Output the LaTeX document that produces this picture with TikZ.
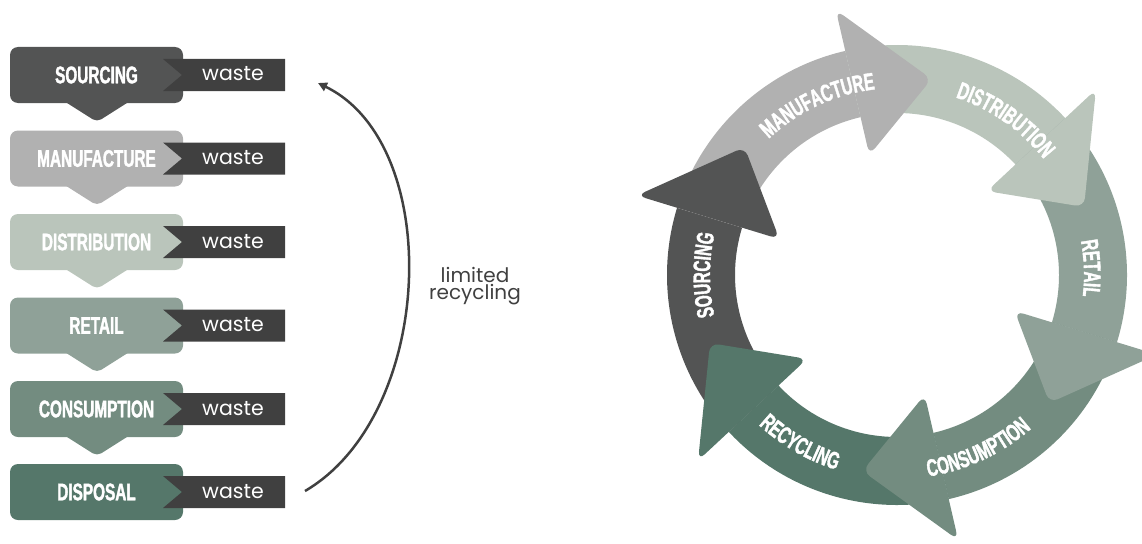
\documentclass[tikz,border=0pt]{standalone}
\usepackage{fontspec}
\usetikzlibrary{arrows.meta,decorations.text}
\newfontfamily\condfam[FakeStretch=0.64, BoldFeatures={FakeBold=1.6}]{Liberation Sans}
\newfontfamily\wastefam{Poppins}
\newcommand\lblfont{\condfam\bfseries\fontsize{24}{24}\selectfont}
\newcommand\wfont{\wastefam\fontsize{20.5}{20.5}\selectfont}
\newcommand\rfont{\wastefam\fontsize{20}{17.5}\selectfont}
\definecolor{cSrc}{HTML}{535454}
\definecolor{cMan}{HTML}{B1B1B1}
\definecolor{cDis}{HTML}{BAC5BB}
\definecolor{cRet}{HTML}{8FA198}
\definecolor{cCon}{HTML}{738C80}
\definecolor{cRec}{HTML}{55776A}
\definecolor{cWaste}{HTML}{404040}
\tikzset{
  stagebox/.style={rounded corners=8pt, inner sep=0pt, minimum width=173pt, minimum height=56pt, text=white, font=\lblfont},
  wastetxt/.style={text=white, font=\wfont, anchor=base, inner sep=0pt},
}
\begin{document}
\begin{tikzpicture}[x=1pt,y=-1pt]
\useasboundingbox (0,0) rectangle (1142,543);
% ---------- left column ----------
\foreach \yy/\col in {75/cSrc,158.5/cMan,242/cDis,325.5/cRet,409/cCon}{
  \fill[\col, rounded corners=5pt] (62.3,\yy+25) -- (131.7,\yy+25) -- (97,\yy+47) -- cycle;
}
\foreach \yy/\col/\lab/\nm in {75/cSrc/SOURCING/src,158.5/cMan/MANUFACTURE/man,242/cDis/DISTRIBUTION/dis,325.5/cRet/RETAIL/ret,409/cCon/CONSUMPTION/con,492/cRec/DISPOSAL/dsp}{
  \node[stagebox, fill=\col] (b-\nm) at (96.5,\yy) {\lab};
  \fill[cWaste] (163,\yy-16) -- (285,\yy-16) -- (285,\yy+16) -- (163,\yy+16) -- (182,\yy) -- cycle;
  \node[wastetxt] (w-\nm) at (233,\yy+6) {waste};
}
\coordinate (rs) at (305,491);
\coordinate (re) at (318,83);
\draw[cWaste, line width=2.5pt, -{Triangle[length=9pt,width=9pt]}] (rs) .. controls (435,415) and (445,145) .. (re);
\node[text=cWaste, font=\rfont, align=center, inner sep=0pt] (lr) at (475,286) {limited\\recycling};
% ---------- cycle ----------
\begin{scope}[shift={(897pt,-275pt)}, x=1pt, y=1pt]
  % bodies
  \foreach \s/\e/\col in {223/163/cSrc,163/103/cMan,103/43/cDis,43/-17/cRet,-17/-77/cCon,-77/-137/cRec}{
    \fill[\col] (\s:230pt) arc[start angle=\s, end angle=\e, radius=230pt] -- (\e:162pt) arc[start angle=\e, end angle=\s, radius=162pt] -- cycle;
  }
  % heads
  \foreach \b/\col in {163/cSrc,103/cMan,43/cDis,-17/cRet,-77/cCon,-137/cRec}{
    \fill[\col, rounded corners=9pt] (\b:272pt) -- (\b-23:199pt) -- (\b:123pt) -- cycle;
  }
  % labels (clockwise, tops outward)
  \foreach \c/\lab in {180/SOURCING,115/MANUFACTURE,55/DISTRIBUTION,2/RETAIL}{
    \path[decorate, decoration={text along path, text={|\lblfont|\lab}, text align=center, text color=white}]
      (\c+35:187pt) arc[start angle=\c+35, end angle=\c-35, radius=187pt];
  }
  % labels (counterclockwise, tops inward)
  \foreach \c/\lab in {-65/CONSUMPTION,-120/RECYCLING}{
    \path[decorate, decoration={text along path, text={|\lblfont|\lab}, text align=center, text color=white}]
      (\c-35:204pt) arc[start angle=\c-35, end angle=\c+35, radius=204pt];
  }
\end{scope}
\end{tikzpicture}
\end{document}
